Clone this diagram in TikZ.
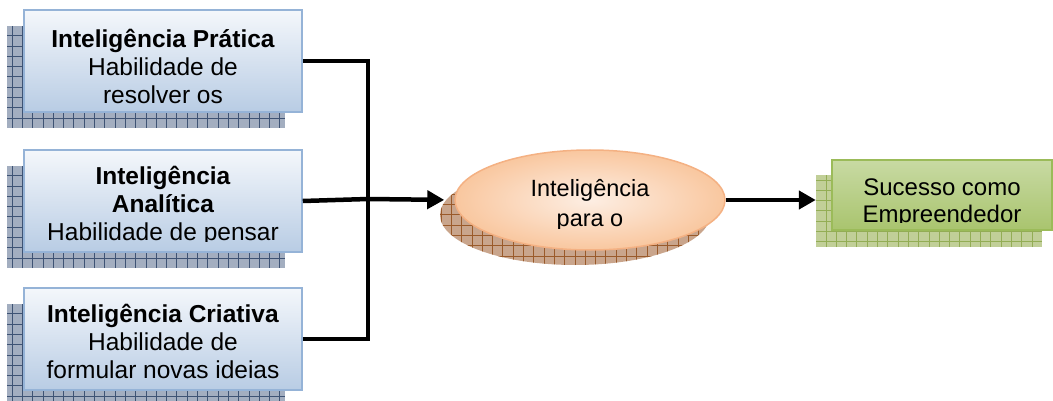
\documentclass[tikz,border=0pt]{standalone}
\usepackage{fontspec}
\setmainfont{Liberation Sans}
\usetikzlibrary{arrows.meta,shapes.geometric}

\definecolor{bluedge}{HTML}{95B3D7}
\definecolor{bluetop}{HTML}{F4F7FB}
\definecolor{bluebot}{HTML}{B8CCE4}
\definecolor{blueshd}{HTML}{A3AEC0}
\definecolor{bluegrid}{HTML}{3E5374}
\definecolor{peachedge}{HTML}{F4B183}
\definecolor{peachin}{HTML}{FDEEE3}
\definecolor{peachout}{HTML}{F9C79F}
\definecolor{brownshd}{HTML}{C9A58C}
\definecolor{browngrid}{HTML}{9A5A2A}
\definecolor{greenedge}{HTML}{9BBB59}
\definecolor{greentop}{HTML}{C8DAA3}
\definecolor{greenbot}{HTML}{A9C46E}
\definecolor{greenshd}{HTML}{C1CF98}
\definecolor{greengrid}{HTML}{93AD55}

\tikzset{
  gridfill/.style 2 args={draw=none, fill=#1, inner sep=0pt,
    path picture={\draw[#2, line width=1pt, step=10.3pt]
      (path picture bounding box.south west) grid (path picture bounding box.north east);}},
  bluebox/.style={rectangle, draw=bluedge, line width=1.5pt, top color=bluetop,
    bottom color=bluebot, minimum width=278pt, minimum height=102pt, inner sep=0pt},
  greenbox/.style={rectangle, draw=greenedge, line width=1.5pt, top color=greentop,
    bottom color=greenbot, minimum width=220pt, minimum height=70pt, inner sep=0pt},
  boxtext/.style={align=center, inner sep=0pt,
    font=\fontsize{24.5}{28}\selectfont},
  conn/.style={line width=4.5pt, black}
}

\begin{document}
\begin{tikzpicture}[x=1pt,y=-1pt]

\def\width{1053}
\def\height{401}
\def\tip{{Triangle[length=17pt,width=18pt]}}

\path [use as bounding box] (0,0) rectangle (\width,\height);

% SHADOWS
\node[gridfill={blueshd}{bluegrid}, minimum width=278pt, minimum height=102pt] (p1s) at (146,77) {};
\node[gridfill={blueshd}{bluegrid}, minimum width=278pt, minimum height=102pt] (p2s) at (146,217) {};
\node[gridfill={blueshd}{bluegrid}, minimum width=278pt, minimum height=102pt] (p3s) at (146,355) {};
\node[gridfill={brownshd}{browngrid}, ellipse, minimum width=270pt, minimum height=100pt] (ells) at (575,215) {};
\node[gridfill={greenshd}{greengrid}, minimum width=226pt, minimum height=72pt] (succs) at (929,211) {};

% BOXES
\node[bluebox] (p1) at (163,61) {};
\begin{scope}
  \clip (p1.south west) rectangle (p1.north east);
  \node[boxtext] (p1t) at ([yshift=-5pt]p1.center)
    {\textbf{Inteligência Prática}\\Habilidade de\\resolver os};
\end{scope}

\node[bluebox] (p2) at (163,201) {};
\begin{scope}
  \clip (p2.north west) rectangle (p2.east |- 0,241);
  \node[boxtext] (p2t) at ([yshift=-5pt]p2.center)
    {\textbf{Inteligência}\\\textbf{Analítica}\\Habilidade de pensar};
\end{scope}

\node[bluebox] (p3) at (163,339) {};
\begin{scope}
  \clip (p3.south west) rectangle (p3.north east);
  \node[boxtext] (p3t) at ([yshift=-2pt]p3.center)
    {\textbf{Inteligência Criativa}\\Habilidade de\\formular novas ideias};
\end{scope}

\node[ellipse, draw=peachedge, line width=1.5pt, inner color=peachin, outer color=peachout,
  minimum width=270pt, minimum height=100pt] (ell) at (590,200) {};
\begin{scope}
  \clip (455,150) rectangle (725,228);
  \node[boxtext, font=\fontsize{23.5}{30}\selectfont] (ellt) at (590,205) {Inteligência\\para o};
\end{scope}

\node[greenbox] (succ) at (942,195) {};
\begin{scope}
  \clip (succ.north west) rectangle (succ.east |- 0,222);
  \node[boxtext, font=\fontsize{24}{27}\selectfont] (succt) at ([yshift=-8pt]succ.center)
    {Sucesso como\\Empreendedor};
\end{scope}

% CONNECTORS
\coordinate (join) at (368,199);
\draw [conn] (p1.east) -| (join);
\draw [conn] (p3.east) -| (join);
\draw [conn] (p2.east) -- (join);
\draw [conn, -\tip, shorten >=10pt] (join) -- (ell.west);
\draw [conn, -\tip] (ell.east) -- (ell.east -| succs.west);

\end{tikzpicture}
\end{document}
